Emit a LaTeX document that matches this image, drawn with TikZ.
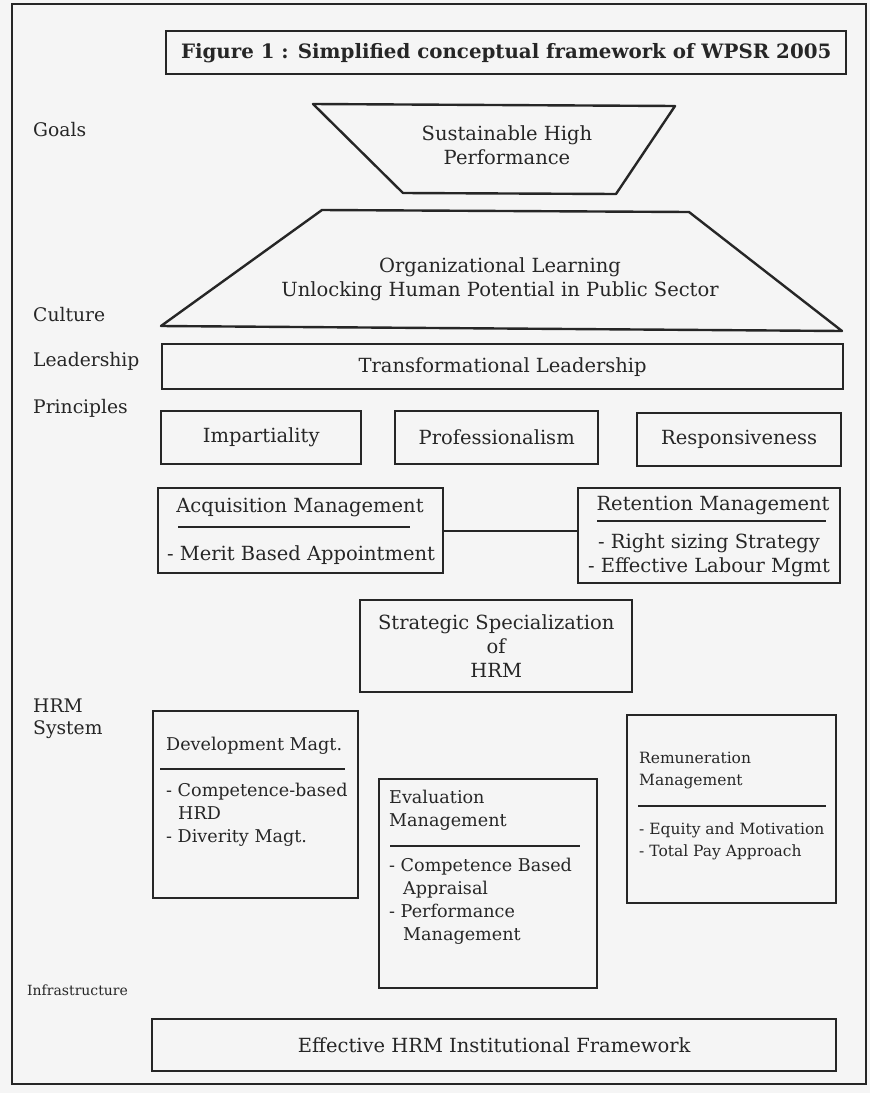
\documentclass[tikz,border=0pt]{standalone}
\usepackage{fontspec}
\setmainfont{DejaVu Serif}

\definecolor{ink}{gray}{0.15}
\definecolor{paper}{gray}{0.96}

\newcommand{\bodysize}{\fontsize{19.5}{24}\selectfont}
\newcommand{\lblsize}{\fontsize{18.7}{22}\selectfont}
\newcommand{\hrmsize}{\fontsize{17.6}{23}\selectfont}
\newcommand{\remsize}{\fontsize{15.5}{22}\selectfont}
\newcommand{\infrasize}{\fontsize{14}{16}\selectfont}
\newcommand{\titlesize}{\fontsize{19.8}{22}\selectfont\bfseries}

\tikzset{
  box/.style={draw=ink, line width=2.4pt, inner sep=0pt, anchor=north west, font=\bodysize, text=ink},
  edge/.style={draw=ink, line width=2.4pt, line join=round},
  rule/.style={draw=ink, line width=2.4pt},
  txt/.style={inner sep=0pt, align=center, font=\bodysize, text=ink},
  item/.style={inner sep=0pt, align=left, anchor=west, font=\hrmsize, text=ink},
  lbl/.style={inner sep=0pt, align=left, anchor=west, font=\lblsize, text=ink}
}

\begin{document}
\begin{tikzpicture}[x=1pt,y=-1pt]
    \useasboundingbox[fill=paper] (0,0) rectangle (870,1093);

    %% outer frame
    \draw[ink, line width=1.5pt] (12,4) rectangle (866,1084);

    %% title
    \node[box, minimum width=680pt, minimum height=43pt, font=\titlesize] (title) at (165,30) {Figure 1 : Simplified conceptual framework of WPSR 2005};

    %% row labels
    \node[lbl] (goals) at (33,130) {Goals};
    \node[lbl] (culture) at (33,315) {Culture};
    \node[lbl] (leadership) at (33,361) {Leadership};
    \node[lbl] (principles) at (33,408) {Principles};
    \node[lbl] (hrmsys) at (33,719) {HRM\\System};
    \node[lbl, font=\infrasize] (infra) at (27,990) {Infrastructure};

    %% goals
    \draw[edge] (313,104) -- (675,106) -- (616,194) -- (403,193) -- cycle;
    \node[txt] (goal) at (507,145) {Sustainable High\\Performance};

    %% culture
    \draw[edge] (322,210) -- (689,212) -- (842,331) -- (161,326) -- cycle;
    \node[txt] (cult) at (500,279) {Organizational Learning\\Unlocking Human Potential in Public Sector};

    %% leadership
    \node[box, minimum width=681pt, minimum height=45pt] (lead) at (161,343) {Transformational Leadership};

    %% principles
    \node[box, minimum width=200pt, minimum height=53pt] (imp) at (160,410) {Impartiality};
    \node[box, minimum width=203pt, minimum height=53pt] (prof) at (394,410) {Professionalism};
    \node[box, minimum width=204pt, minimum height=53pt] (resp) at (636,412) {Responsiveness};

    %% acquisition
    \node[box, minimum width=285pt, minimum height=85pt] (acq) at (157,487) {};
    \node[txt] (acqhead) at (300,507) {Acquisition Management};
        \draw[rule] (178,527) -- (410,527);
    \node[txt] (acqitem) at (301,555) {- Merit Based Appointment};

    %% retention
    \node[box, minimum width=262pt, minimum height=95pt] (ret) at (577,487) {};
    \node[txt] (rethead) at (713,505) {Retention Management};
        \draw[rule] (597,521) -- (826,521);
    \node[txt] (retitem) at (709,555) {- Right sizing Strategy\\- Effective Labour Mgmt};

    \draw[edge] (acq.east) -- (acq.east -| ret.west);

    %% strategic specialization
    \node[box, minimum width=272pt, minimum height=92pt, align=center] (ssh) at (359,599) {Strategic Specialization\\of\\HRM};

    %% development
    \node[box, minimum width=205pt, minimum height=187pt] (dev) at (152,710) {};
    \node[item] (devhead) at (166,746) {Development Magt.};
        \draw[rule] (160,769) -- (345,769);
    \node[item] (devitem) at (166,815) {- Competence-based\\\hspace*{12pt}HRD\\- Diverity Magt.};

    %% evaluation
    \node[box, minimum width=218pt, minimum height=209pt] (eval) at (378,778) {};
    \node[item] (evalhead) at (389,810) {Evaluation\\Management};
        \draw[rule] (390,846) -- (580,846);
    \node[item] (evalitem) at (389,901) {- Competence Based\\\hspace*{14pt}Appraisal\\- Performance\\\hspace*{14pt}Management};

    %% remuneration
    \node[box, minimum width=209pt, minimum height=188pt] (rem) at (626,714) {};
    \node[item, font=\remsize] (remhead) at (639,771) {Remuneration\\Management};
        \draw[rule] (638,806) -- (826,806);
    \node[item, font=\remsize] (remitem) at (639,841) {- Equity and Motivation\\- Total Pay Approach};

    %% infrastructure
    \node[box, minimum width=684pt, minimum height=52pt] (frame) at (151,1018) {Effective HRM Institutional Framework};

\end{tikzpicture}
\end{document}
